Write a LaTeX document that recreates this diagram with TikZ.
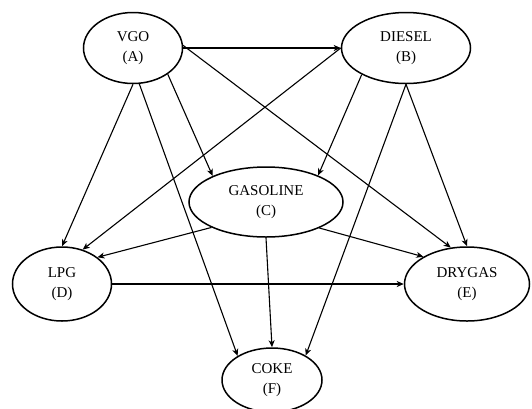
\documentclass[tikz,border=0pt]{standalone}
\usepackage{fontspec}
\setmainfont{Liberation Serif}
\usetikzlibrary{shapes.geometric,arrows.meta}
\begin{document}
\begin{tikzpicture}[x=1pt,y=-1pt,
  comp/.style={ellipse,draw,line width=1.5pt,inner sep=0pt,align=center,
    font=\fontsize{15}{20}\selectfont},
  flow/.style={line width=1.1pt,-{Stealth[length=7pt,width=6pt,inset=2pt]}}]
\useasboundingbox (0,0) rectangle (532,408);
\clip (0,0) rectangle (532,408);
\node[comp,minimum width=99pt,minimum height=71pt] (A) at (133,48) {VGO\\(A)};
\node[comp,minimum width=129pt,minimum height=71pt] (B) at (406,48) {DIESEL\\(B)};
\node[comp,minimum width=154pt,minimum height=70pt] (C) at (266,202) {GASOLINE\\(C)};
\node[comp,minimum width=99pt,minimum height=74pt] (D) at (62,284) {LPG\\(D)};
\node[comp,minimum width=125pt,minimum height=74pt] (E) at (467,284) {DRYGAS\\(E)};
\node[comp,minimum width=100pt,minimum height=64pt] (F) at (272,380) {COKE\\(F)};
\draw[flow] (A.east) -- (B.west);
\draw[flow] (A.south) -- (D.north);
\draw[flow] (A.-80) -- (F.145);
\draw[flow] (A.-37) -- (C.154);
\draw[flow] (A.3) -- (E.114);
\draw[flow] (B.west) -- (D.59);
\draw[flow] (B.-149) -- (C.27);
\draw[flow] (B.south) -- (F.36);
\draw[flow] (B.south) -- (E.north);
\draw[flow] (C.205) -- (D.37);
\draw[flow] (C.-26) -- (E.148);
\draw[flow] (C.south) -- (F.north);
\draw[flow] (D.east) -- (E.west);
\end{tikzpicture}
\end{document}
